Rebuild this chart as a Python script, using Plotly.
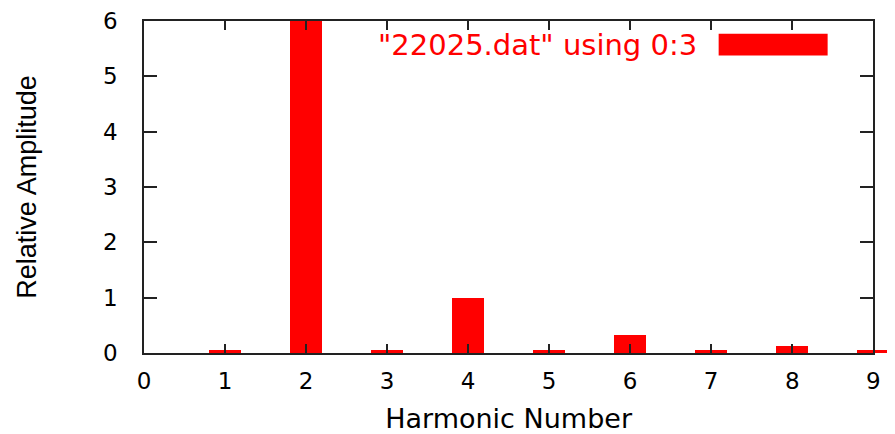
import plotly.graph_objects as go

harmonics = [1, 2, 3, 4, 5, 6, 7, 8, 9]
amplitudes = [0.05, 7.0, 0.05, 1.0, 0.05, 0.32, 0.05, 0.13, 0.06]
x_ticks = [0, 1, 2, 3, 4, 5, 6, 7, 8, 9]
y_ticks = [0, 1, 2, 3, 4, 5, 6]
series_name = '"22025.dat" using 0:3'

# the page body has an 8px margin, so the figure starts at (8, 8) in the window
PAD = 8
W, H = 895, 434 - PAD
left_px, top_px, bottom_px = 144, 16, 353          # plot edges in window pixels
L, T, R = left_px - PAD, top_px - PAD, 0
B = H - (bottom_px - PAD)
plot_w = W - L - R
plot_h = H - T - B
frame_frac = 736 / plot_w  # fraction of width covered by the [0,9] frame
x_ext = 9 / frame_frac


def px_x(p):
    return (p - left_px) / plot_w


def px_y(p):
    return (bottom_px - p) / plot_h


font_main = "DejaVu Sans"
ink = "#222222"

fig = go.Figure()

# bars drawn on a full-width x axis so the last box can spill past the frame
fig.add_trace(go.Bar(
    x=harmonics, y=amplitudes, width=0.4,
    marker=dict(color="#ff0000", line=dict(width=0)),
    xaxis="x", yaxis="y", showlegend=False, hoverinfo="x+y",
))
# invisible trace to create the framed subplot
fig.add_trace(go.Scatter(
    x=[0, 9], y=[0, 6], mode="markers", marker=dict(opacity=0),
    xaxis="x2", yaxis="y", showlegend=False, hoverinfo="skip",
))

fig.update_layout(
    width=W, height=H,
    margin=dict(l=L, r=R, t=T, b=B),
    paper_bgcolor="white", plot_bgcolor="rgba(0,0,0,0)",
    showlegend=False,
    bargap=0,
    xaxis=dict(domain=[0, 1], range=[0, x_ext], visible=False, anchor="y"),
    xaxis2=dict(
        domain=[0, frame_frac], range=[0, 9], anchor="y",
        tickmode="array", tickvals=x_ticks, ticktext=[str(v) for v in x_ticks],
        ticks="inside", ticklen=9, tickwidth=1.5, tickcolor=ink,
        showline=True, linecolor=ink, linewidth=1.5, mirror="ticks",
        showgrid=False, zeroline=False,
        tickfont=dict(family=font_main, size=23, color="black"),
        ticklabelstandoff=7, ticklabeloverflow="allow",
        title=dict(text="Harmonic Number", font=dict(family=font_main, size=27, color="black"), standoff=16),
    ),
    yaxis=dict(
        domain=[0, 1], range=[0, 6], anchor="x2",
        tickmode="array", tickvals=y_ticks, ticktext=[str(v) for v in y_ticks],
        ticks="inside", ticklen=13, tickwidth=1.5, tickcolor=ink,
        showline=True, linecolor=ink, linewidth=1.5, mirror="ticks",
        showgrid=False, zeroline=False,
        tickfont=dict(family=font_main, size=23, color="black"),
        ticklabelstandoff=20, ticklabeloverflow="allow",
        title=dict(text="Relative Amplitude", font=dict(family="Liberation Sans", size=27, color="black"), standoff=59),
    ),
    annotations=[dict(
        text=series_name, xref="paper", yref="paper",
        x=px_x(704), y=px_y(40),
        xanchor="right", yanchor="middle", showarrow=False,
        font=dict(family=font_main, size=29, color="#ff0000"),
    )],
    shapes=[dict(
        type="rect", xref="paper", yref="paper",
        x0=px_x(724), x1=px_x(834),
        y0=px_y(51), y1=px_y(29),
        fillcolor="#ff0000", line=dict(width=0), layer="above",
    )],
)

fig.write_html("out.html")
